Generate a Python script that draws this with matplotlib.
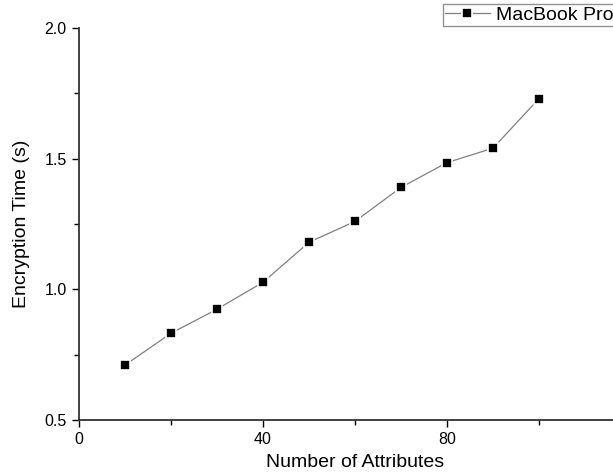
import matplotlib
matplotlib.use('Agg')
import matplotlib.pyplot as plt
from matplotlib.ticker import MultipleLocator

plt.rcParams['font.family'] = ['Liberation Sans', 'DejaVu Sans']

attributes = [10, 20, 30, 40, 50, 60, 70, 80, 90, 100]
enc_time = [0.71, 0.832, 0.924, 1.027, 1.18, 1.26, 1.39, 1.485, 1.54, 1.73]
x_ticks = [0, 40, 80]
y_ticks = [0.5, 1.0, 1.5, 2.0]

fig = plt.figure(figsize=(6.13, 4.76), dpi=100)
# axes runs past the right edge of the figure, like the cropped original
ax = fig.add_axes([79 / 613, 56 / 476, 552 / 613, 392 / 476])
ax.plot(attributes, enc_time, color='#808080', linewidth=0.9,
        marker='s', markersize=7.5, markerfacecolor='black',
        markeredgecolor='white', markeredgewidth=1.2, label='MacBook Pro')

ax.set_xlim(0, 120)
ax.set_ylim(0.5, 2.0)
ax.set_xticks(x_ticks)
ax.set_yticks(y_ticks)
ax.xaxis.set_minor_locator(MultipleLocator(20))
ax.yaxis.set_minor_locator(MultipleLocator(0.25))
ax.tick_params(which='major', direction='out', length=5, width=1,
               labelsize=11.5, pad=4)
ax.tick_params(which='minor', direction='out', length=3.5, width=1)
ax.yaxis.set_major_formatter(plt.FormatStrFormatter('%.1f'))
for side in ['top', 'right']:
    ax.spines[side].set_visible(False)
for side in ['left', 'bottom']:
    ax.spines[side].set_color('#333333')
    ax.spines[side].set_linewidth(1.3)

ax.set_xlabel('Number of Attributes', fontsize=14, labelpad=5)
ax.set_ylabel('Encryption Time (s)', fontsize=14, labelpad=10)

leg = ax.legend(loc='upper left', bbox_to_anchor=(443 / 613, 1 - 4 / 476),
                bbox_transform=fig.transFigure, fontsize=14, frameon=True,
                fancybox=False, borderaxespad=0, handlelength=2.3,
                borderpad=0.1, handletextpad=0.3)
leg.get_frame().set_edgecolor('#777777')
leg.get_frame().set_linewidth(1)

fig.savefig('out.png', dpi=100)
